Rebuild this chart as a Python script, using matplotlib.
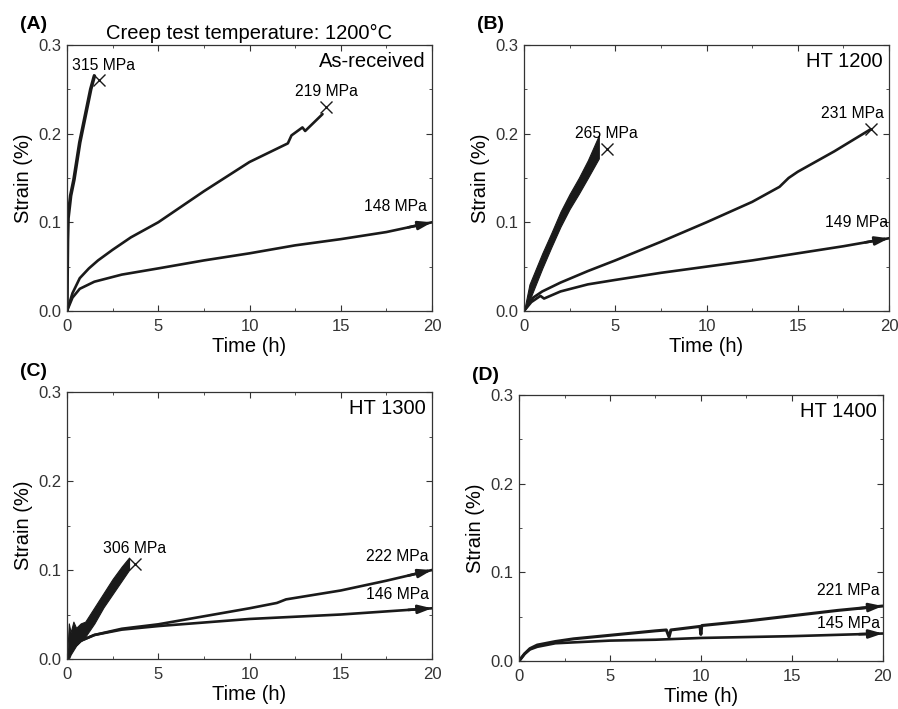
import numpy as np
import matplotlib.pyplot as plt
from matplotlib.ticker import MultipleLocator

plt.rcParams['font.family'] = ['Liberation Sans', 'DejaVu Sans']

# (A) as-received
a315_t = [0, 0.01, 0.03, 0.06, 0.2, 0.38, 0.7, 1.0, 1.3, 1.5]
a315_s = [0, 0.04, 0.08, 0.105, 0.13, 0.148, 0.19, 0.22, 0.25, 0.265]
a219_t = [0, 0.3, 0.7, 1.2, 1.7, 2.5, 3.5, 5, 7.5, 10, 12.1, 12.3, 12.9, 13.05, 14.0]
a219_s = [0, 0.02, 0.037, 0.048, 0.057, 0.069, 0.083, 0.1, 0.135, 0.168, 0.189, 0.198, 0.207, 0.203, 0.222]
a148_t = [0, 0.3, 0.7, 1.5, 3, 5, 7.5, 10, 12.5, 15, 17.5, 20]
a148_s = [0, 0.015, 0.025, 0.033, 0.041, 0.048, 0.057, 0.065, 0.074, 0.081, 0.089, 0.1]

# (B) HT 1200
b265_t = [0, 0.3, 1.0, 1.5, 2.0, 2.5, 3.0, 3.5, 4.1]
b265_lo = [0, 0.012, 0.048, 0.072, 0.095, 0.115, 0.132, 0.15, 0.172]
b265_hi = [0, 0.03, 0.065, 0.088, 0.112, 0.132, 0.15, 0.17, 0.198]
b231_t = [0, 0.5, 1, 2, 3.5, 5, 7.5, 10, 12.5, 14, 14.5, 15, 17, 19]
b231_s = [0, 0.015, 0.022, 0.032, 0.045, 0.057, 0.078, 0.1, 0.123, 0.14, 0.15, 0.157, 0.18, 0.205]
b149_t = [0, 0.4, 0.9, 1.1, 2, 3.5, 5, 7.5, 10, 12.5, 15, 17.5, 20]
b149_s = [0, 0.01, 0.017, 0.014, 0.022, 0.03, 0.035, 0.043, 0.05, 0.057, 0.065, 0.073, 0.082]

# (C) HT 1300
c306_t = [0, 0.1, 0.2, 0.35, 0.5, 0.75, 1.0, 1.5, 2.0, 2.5, 3.0, 3.4]
c306_lo = [0, 0.0, 0.005, 0.01, 0.015, 0.02, 0.025, 0.04, 0.058, 0.073, 0.088, 0.1]
c306_hi = [0, 0.04, 0.03, 0.042, 0.035, 0.04, 0.042, 0.058, 0.074, 0.09, 0.104, 0.114]
c222_t = [0, 0.3, 0.7, 1.5, 3, 5, 7.5, 10, 11.5, 12, 15, 17.5, 20]
c222_s = [0, 0.012, 0.02, 0.027, 0.034, 0.039, 0.048, 0.057, 0.063, 0.067, 0.077, 0.088, 0.1]
c146_t = [0, 0.3, 0.7, 1.5, 3, 5, 7.5, 10, 15, 20]
c146_s = [0, 0.012, 0.02, 0.027, 0.033, 0.037, 0.041, 0.045, 0.05, 0.057]

# (D) HT 1400
d221_t = [0, 0.3, 0.6, 1, 2, 3, 5, 7.5, 8.1, 8.25, 8.35, 9.95, 10.0, 10.05, 12.5, 15, 17.5, 20]
d221_s = [0, 0.008, 0.014, 0.018, 0.022, 0.025, 0.029, 0.034, 0.035, 0.027, 0.035, 0.039, 0.03, 0.04, 0.045, 0.051, 0.057, 0.062]
d145_t = [0, 0.3, 0.6, 1, 2, 3, 5, 7.5, 10, 15, 20]
d145_s = [0, 0.008, 0.013, 0.016, 0.02, 0.021, 0.023, 0.024, 0.026, 0.028, 0.031]

ink = '#1a1a1a'

fig = plt.figure(figsize=(8.98, 7.09), dpi=100)
axA = fig.add_axes([0.0746, 0.5614, 0.4065, 0.3752])
axB = fig.add_axes([0.5835, 0.5614, 0.4065, 0.3752])
axC = fig.add_axes([0.0746, 0.0705, 0.4065, 0.3766])
axD = fig.add_axes([0.578, 0.0677, 0.405, 0.3752])


def setup(ax, letter, name):
    ax.set_xlim(0, 20)
    ax.set_ylim(0, 0.3)
    ax.xaxis.set_major_locator(MultipleLocator(5))
    ax.xaxis.set_minor_locator(MultipleLocator(2.5))
    ax.yaxis.set_major_locator(MultipleLocator(0.1))
    ax.yaxis.set_minor_locator(MultipleLocator(0.05))
    ax.set_yticks([0, 0.1, 0.2, 0.3])
    ax.set_yticklabels(['0.0', '0.1', '0.2', '0.3'])
    ax.tick_params(which='both', direction='in', top=True, right=True,
                   labelsize=12, colors='#333333')
    ax.tick_params(axis='x', pad=6)
    ax.tick_params(axis='y', pad=4)
    ax.tick_params(which='major', length=4)
    ax.tick_params(which='minor', length=2.5)
    for sp in ax.spines.values():
        sp.set_color('#333333')
        sp.set_linewidth(0.9)
    ax.set_xlabel('Time (h)', fontsize=14.5, labelpad=2)
    ax.set_ylabel('Strain (%)', fontsize=14.5, labelpad=4)
    ax.text(-0.13, 1.075, letter, transform=ax.transAxes, fontsize=14,
            fontweight='bold', va='center', ha='left')
    ax.text(19.65, 0.281, name, fontsize=14.5, ha='right', va='center')


def curve(ax, t, s, arrow=False, lw=1.9):
    ax.plot(t, s, color=ink, lw=lw, solid_capstyle='round')
    if arrow:
        ax.annotate('', xy=(t[-1], s[-1]), xytext=(t[-1] - 1.3, s[-1] - (s[-1] - s[-2]) * 1.3 / (t[-1] - t[-2])),
                    arrowprops=dict(arrowstyle='-|>,head_length=0.8,head_width=0.25',
                                    color=ink, lw=1.9, shrinkA=0, shrinkB=0))


def band(ax, t, lo, hi):
    ax.fill_between(t, lo, hi, color=ink, lw=0.8, edgecolor=ink)


def label(ax, x, y, txt):
    ax.text(x, y, txt, fontsize=11.3, ha='center', va='center')


# A
setup(axA, '(A)', 'As-received')
axA.set_title('Creep test temperature: 1200\u00b0C', fontsize=14.5, pad=4)
curve(axA, a315_t, a315_s, lw=2.6)
curve(axA, a219_t, a219_s)
curve(axA, a148_t, a148_s, arrow=True)
axA.plot(1.75, 0.26, marker='x', ms=9, mew=1, color=ink)
axA.plot(14.2, 0.23, marker='x', ms=9, mew=1, color=ink)
label(axA, 2.0, 0.277, '315 MPa')
label(axA, 14.2, 0.247, '219 MPa')
label(axA, 18.0, 0.118, '148 MPa')

# B
setup(axB, '(B)', 'HT 1200')
band(axB, b265_t, b265_lo, b265_hi)
curve(axB, b231_t, b231_s)
curve(axB, b149_t, b149_s, arrow=True)
axB.plot(4.57, 0.183, marker='x', ms=9, mew=1, color=ink)
axB.plot(19.0, 0.205, marker='x', ms=9, mew=1, color=ink)
label(axB, 4.5, 0.2, '265 MPa')
label(axB, 18.0, 0.223, '231 MPa')
label(axB, 18.2, 0.1, '149 MPa')

# C
setup(axC, '(C)', 'HT 1300')
band(axC, c306_t, c306_lo, c306_hi)
curve(axC, c222_t, c222_s, arrow=True)
curve(axC, c146_t, c146_s, arrow=True)
axC.plot(3.73, 0.107, marker='x', ms=9, mew=1, color=ink)
label(axC, 3.7, 0.124, '306 MPa')
label(axC, 18.1, 0.115, '222 MPa')
label(axC, 18.1, 0.072, '146 MPa')

# D
setup(axD, '(D)', 'HT 1400')
curve(axD, d221_t, d221_s, arrow=True, lw=2.2)
curve(axD, d145_t, d145_s, arrow=True)
label(axD, 18.1, 0.08, '221 MPa')
label(axD, 18.1, 0.042, '145 MPa')

fig.savefig('out.png', dpi=100)
